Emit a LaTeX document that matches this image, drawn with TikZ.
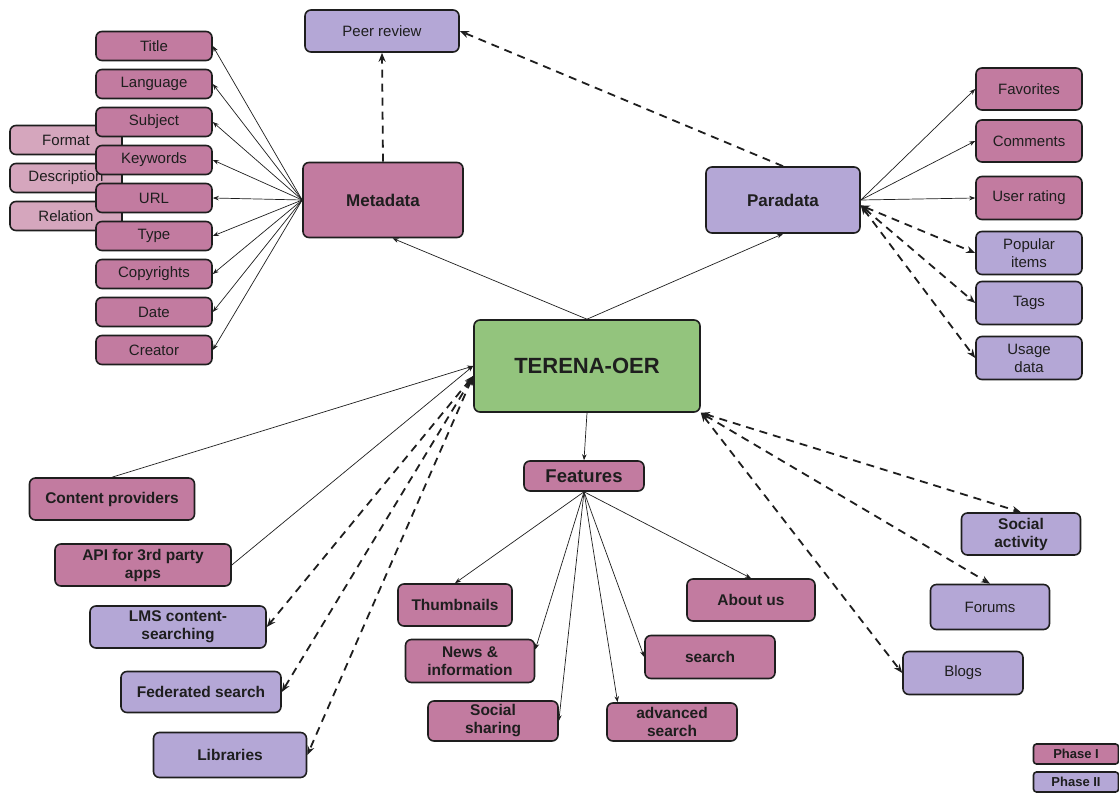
\documentclass[tikz,border=0pt]{standalone}
\usepackage{fontspec}
\setmainfont{Liberation Sans}
\usepackage{tikz}
\usetikzlibrary{arrows.meta,positioning,calc}
\definecolor{ph1}{HTML}{C27BA0}
\definecolor{ph1l}{HTML}{D5A6BD}
\definecolor{ph2}{HTML}{B4A7D6}
\definecolor{hub}{HTML}{93C47D}
\definecolor{ink}{HTML}{1E1E1E}

\begin{document}
\begin{tikzpicture}[
  x=1pt, y=-1pt, node distance=7.4pt,
  n/.style={draw=ink, line width=1.6pt, rounded corners=6pt, inner sep=1pt, align=center,
    text=ink, font=\fontsize{15}{18}\selectfont},
  nb/.style={n, font=\fontsize{15.5}{18}\selectfont\bfseries},
  one/.style={fill=ph1}, onel/.style={fill=ph1l}, two/.style={fill=ph2},
  sz/.style 2 args={minimum width=#1pt, minimum height=#2pt},
  e/.style={-{Stealth[length=6pt,width=4.5pt]}, line width=0.7pt, draw=ink},
  d/.style={-{Stealth[length=9pt,width=7pt]}, line width=1.8pt, draw=ink, dash pattern=on 8pt off 6pt},
  dd/.style={d, {Stealth[length=9pt,width=7pt]}-{Stealth[length=9pt,width=7pt]}}
]
\useasboundingbox (0,0) rectangle (1119,794);
% hub
\node[nb, fill=hub, sz={226}{92}, font=\fontsize{22}{26}\selectfont\bfseries] (oer) at (587,366) {TERENA-OER};
\node[nb, one, sz={160}{75}, font=\fontsize{17}{20}\selectfont\bfseries] (meta) at (383,200) {Metadata};
\node[nb, two, sz={154}{66}, font=\fontsize{17}{20}\selectfont\bfseries] (para) at (783,200) {Paradata};
\node[n, two, sz={154}{42}] (peer) at (382,31) {Peer review};
\node[nb, one, sz={120}{30}, font=\fontsize{18.5}{22}\selectfont\bfseries] (feat) at (584,476) {Features};
% metadata fields (the light ones sit behind)
\node[n, onel, sz={112}{29}] (format) at (66,140) {Format};
\node[n, onel, sz={112}{29}, below=of format] (descr) {Description};
\node[n, onel, sz={112}{29}, below=of descr] (relat) {Relation};
\node[n, one, sz={116}{29}] (title) at (154,46) {Title};
\node[n, one, sz={116}{29}, below=of title] (lang) {Language};
\node[n, one, sz={116}{29}, below=of lang] (subj) {Subject};
\node[n, one, sz={116}{29}, below=of subj] (keyw) {Keywords};
\node[n, one, sz={116}{29}, below=of keyw] (url) {URL};
\node[n, one, sz={116}{29}, below=of url] (type) {Type};
\node[n, one, sz={116}{29}, below=of type] (copy) {Copyrights};
\node[n, one, sz={116}{29}, below=of copy] (date) {Date};
\node[n, one, sz={116}{29}, below=of date] (creat) {Creator};
% paradata fields
\node[n, one, sz={106}{42}] (fav) at (1029,89) {Favorites};
\node[n, one, sz={106}{42}] (comm) at (1029,141) {Comments};
\node[n, one, sz={106}{43}] (rate) at (1029,198) {User rating};
\node[n, two, sz={106}{43}] (pop) at (1029,253) {Popular\\items};
\node[n, two, sz={106}{43}] (tags) at (1029,303) {Tags};
\node[n, two, sz={106}{43}] (usage) at (1029,358) {Usage\\data};
% sources
\node[nb, one, sz={165}{42}] (prov) at (112,499) {Content providers};
\node[nb, one, sz={176}{42}] (api) at (143,565) {API for 3rd party\\apps};
\node[nb, two, sz={176}{42}] (lms) at (178,627) {LMS content-\\searching};
\node[nb, two, sz={160}{41}] (fed) at (201,692) {Federated search};
\node[nb, two, sz={153}{45}] (lib) at (230,755) {Libraries};
% features
\node[nb, one, sz={114}{42}] (thumb) at (455,605) {Thumbnails};
\node[nb, one, sz={129}{43}] (news) at (470,661) {News \&\\information};
\node[nb, one, sz={130}{40}] (share) at (493,721) {Social\\sharing};
\node[nb, one, sz={130}{38}] (adv) at (672,722) {advanced\\search};
\node[nb, one, sz={130}{43}] (srch) at (710,657) {search};
\node[nb, one, sz={128}{42}] (about) at (751,600) {About us};
% social
\node[nb, two, sz={119}{42}] (soc) at (1021,534) {Social\\activity};
\node[n, two, sz={119}{45}] (forum) at (990,607) {Forums};
\node[n, two, sz={120}{43}] (blog) at (963,673) {Blogs};
% legend
\node[nb, one, sz={85}{20}, rounded corners=3pt, font=\fontsize{13}{15}\selectfont\bfseries] (leg1) at (1076,754) {Phase I};
\node[nb, two, sz={85}{20}, rounded corners=3pt, font=\fontsize{13}{15}\selectfont\bfseries] (leg2) at (1076,782) {Phase II};

\foreach \f in {title,lang,subj,keyw,url,type,copy,date,creat}
  \draw[e] (meta.west) -- (\f.east);
\draw[d] (meta.north) -- (peer.south);
\draw[d] (para.north) -- (peer.east);
\draw[e] (oer.north) -- (meta.-76);
\draw[e] (oer.north) -- (para.south);
\foreach \f in {fav,comm,rate}
  \draw[e] (para.east) -- (\f.west);
\foreach \f in {pop,tags,usage}
  \draw[dd] (para.-4) -- (\f.west);
\draw[e] (oer.south) -- (feat.north);
\draw[e] (feat.south) -- (thumb.north);
\draw[e] (feat.south) -- (news.10);
\draw[e] (feat.south) -- (share.east);
\draw[e] (feat.south) -- (adv.160);
\draw[e] (feat.south) -- (srch.west);
\draw[e] (feat.south) -- (about.north);
\draw[e] (prov.north) -- (oer.west);
\draw[e] (api.east) -- (oer.west);
\foreach \f in {lms,fed,lib}
  \draw[dd] (oer.185) -- (\f.east);
\draw[dd] (oer.south east) -- (soc.north);
\draw[dd] (oer.south east) -- (forum.north);
\draw[dd] (oer.south east) -- (blog.west);
\end{tikzpicture}
\end{document}
